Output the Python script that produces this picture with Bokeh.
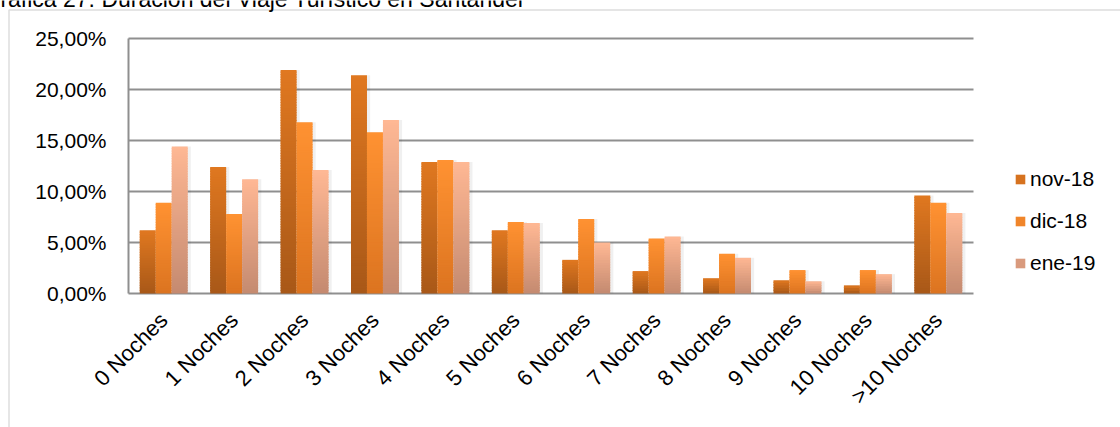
import numpy as np
from bokeh.plotting import figure
from bokeh.models import (ColumnDataSource, Range1d, FixedTicker, LinearAxis,
                          Legend, LegendItem, Label, BoxAnnotation)
from bokeh.embed import file_html
from bokeh.resources import INLINE

# ---------------- data ----------------
categories = ["0 Noches", "1 Noches", "2 Noches", "3 Noches", "4 Noches", "5 Noches",
              "6 Noches", "7 Noches", "8 Noches", "9 Noches", "10 Noches", ">10 Noches"]
series_names = ["nov-18", "dic-18", "ene-19"]
nov_18 = [6.2, 12.4, 21.9, 21.4, 12.9, 6.2, 3.3, 2.2, 1.5, 1.3, 0.8, 9.6]
dic_18 = [8.9, 7.8, 16.8, 15.8, 13.1, 7.0, 7.3, 5.4, 3.9, 2.3, 2.3, 8.9]
ene_19 = [14.4, 11.2, 12.1, 17.0, 12.9, 6.9, 5.0, 5.6, 3.5, 1.2, 1.9, 7.9]
y_ticks = [0, 5, 10, 15, 20, 25]
y_tick_labels = ["0,00%", "5,00%", "10,00%", "15,00%", "20,00%", "25,00%"]
title_text = "Gráfica 27: Duración del Viaje Turístico en Santander"

# ---------------- layout / styles ----------------
W, H = 1120, 427
PLOT_LEFT, PLOT_BOTTOM = 128, 293           # canvas px of x=0 and y=0
CAT_PX = 845 / 12                            # px per category
VAL_PX = 10.2                                # px per percentage point
FONT = "Liberation Sans"
FS = "21px"
GRID = "#8f8f8f"
series_top = ["#E07820", "#FF9232", "#FFB894"]
series_bottom = ["#A85818", "#DC7420", "#C48A70"]
offsets = [-0.227, 0.0, 0.227]
BAR_W = 0.227
STEP = 0.25      # gradient slice height in value units
OVERLAP = 0.12   # slice overlap in value units, hides seams

x_pos = np.arange(len(categories)) + 0.5


def hex2rgb(h):
    h = h.lstrip("#")
    return np.array([int(h[i:i + 2], 16) for i in (0, 2, 4)], dtype=float)


def mix(c_bot, c_top, f):
    a, b = hex2rgb(c_bot), hex2rgb(c_top)
    c = a + (b - a) * f
    return "#%02x%02x%02x" % tuple(int(round(v)) for v in c)


def gradient_source(vals, off, c_top, c_bot):
    xs, bottom, top, color = [], [], [], []
    for x, v in zip(x_pos, vals):
        n = max(3, int(round(v / STEP)))
        for i in range(n):
            xs.append(x + off)
            bottom.append(v * i / n)
            top.append(min(v, v * (i + 1) / n + OVERLAP))
            color.append(mix(c_bot, c_top, (i + 0.5) / n))
    return ColumnDataSource(dict(x=xs, bottom=bottom, top=top, color=color))


p = figure(x_range=Range1d(-PLOT_LEFT / CAT_PX, (W - PLOT_LEFT) / CAT_PX),
           y_range=Range1d((PLOT_BOTTOM - H) / VAL_PX, PLOT_BOTTOM / VAL_PX),
           width=W, height=H, output_backend="svg", toolbar_location=None,
           x_axis_location=None, y_axis_location=None, title=None,
           min_border=0)
p.outline_line_color = None
p.background_fill_color = "white"
p.border_fill_color = "white"
p.xgrid.visible = False
p.ygrid.visible = False

# horizontal gridlines (only across the plot area)
p.segment(x0=0, x1=len(categories), y0=y_ticks, y1=y_ticks,
          line_color=GRID, line_width=2)

# soft shadows
for vals, off in zip([nov_18, dic_18, ene_19], offsets):
    src = ColumnDataSource(dict(x=x_pos + off + 0.045, v=vals))
    p.vbar(x="x", top="v", bottom=0, width=BAR_W, source=src,
           fill_color="#000000", fill_alpha=0.06, line_color=None)

renderers = []
for vals, off, ct, cb in zip([nov_18, dic_18, ene_19], offsets, series_top, series_bottom):
    src = gradient_source(vals, off, ct, cb)
    r = p.vbar(x="x", top="top", bottom="bottom", width=BAR_W, source=src,
               fill_color="color", line_color=None)
    renderers.append(r)

legend = Legend(items=[LegendItem(label=n, renderers=[r], index=20)
                       for n, r in zip(series_names, renderers)],
                location=(1014, 151), padding=0, margin=0, spacing=16,
                glyph_width=12, glyph_height=12, label_standoff=4,
                label_height=26, label_text_font=FONT, label_text_font_size=FS,
                label_text_color="black", border_line_color=None,
                background_fill_alpha=0)
p.add_layout(legend)

# axes fixed at the plot-area edges
xaxis = LinearAxis(fixed_location=0, ticker=FixedTicker(ticks=list(x_pos)),
                   major_label_overrides=dict(zip(x_pos.tolist(), categories)),
                   major_label_orientation=np.pi / 4,
                   major_tick_line_color=None, minor_tick_line_color=None,
                   axis_line_color=None, major_label_standoff=17,
                   major_label_text_font=FONT, major_label_text_font_size="22px",
                   major_label_text_color="black")
p.add_layout(xaxis, "below")

yaxis = LinearAxis(fixed_location=0, ticker=FixedTicker(ticks=y_ticks),
                   major_label_overrides=dict(zip(y_ticks, y_tick_labels)),
                   major_tick_line_color=None, minor_tick_line_color=None,
                   axis_line_color=GRID, axis_line_width=2, bounds=(0, 25),
                   major_label_standoff=16,
                   major_label_text_font=FONT, major_label_text_font_size=FS,
                   major_label_text_color="black")
p.add_layout(yaxis, "left")

# title (clipped at the top as in the original) and outer frame
p.add_layout(BoxAnnotation(left=8.5, right=3000, top=9.5, bottom=3000,
                           left_units="canvas", right_units="canvas",
                           top_units="canvas", bottom_units="canvas",
                           fill_color=None, line_color=GRID, line_width=1.5))
p.add_layout(Label(x=-18, y=-2, x_units="canvas", y_units="canvas", text=title_text,
                   text_font=FONT, text_font_size="23px", text_color="black",
                   text_baseline="alphabetic"))

open("out.html", "w").write(file_html(p, INLINE))
